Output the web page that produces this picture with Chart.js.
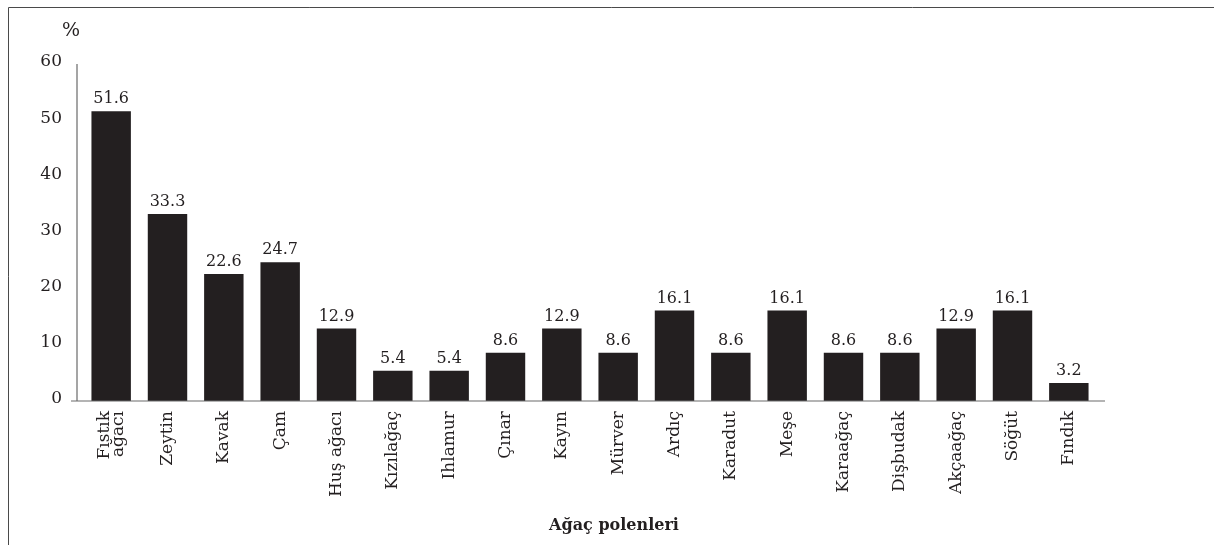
<!DOCTYPE html>
<html lang="tr">
<head>
<meta charset="utf-8">
<title>Ağaç polenleri</title>
<script src="https://cdn.jsdelivr.net/npm/chart.js@4/dist/chart.umd.min.js"></script>
<style>
  html, body { margin: 0; padding: 0; background: #fff; }
  #wrap { position: relative; width: 1214px; height: 545px; }
  canvas { display: block; }
</style>
</head>
<body>
<div id="wrap"><canvas id="c" width="1214" height="545"></canvas></div>
<script>
// Pollen types (x categories); multi-line entries are arrays of lines
const categories = [
  ['Fıstık', 'ağacı'], 'Zeytin', 'Kavak', 'Çam', 'Huş ağacı', 'Kızılağaç',
  'Ihlamur', 'Çınar', 'Kayın', 'Mürver', 'Ardıç', 'Karadut', 'Meşe',
  'Karaağaç', 'Dişbudak', 'Akçaağaç', 'Söğüt', 'Fındık'
];
// Share of each pollen type, %
const percentages = [
  51.6, 33.3, 22.6, 24.7, 12.9, 5.4, 5.4, 8.6, 12.9,
  8.6, 16.1, 8.6, 16.1, 8.6, 8.6, 12.9, 16.1, 3.2
];
const yTicks = [0, 10, 20, 30, 40, 50, 60];
const axisTitle = 'Ağaç polenleri';
const unitLabel = '%';

const INK = '#231f20';
const AXIS = '#6a6a6a';
const SERIF = '"DejaVu Serif", "Liberation Serif", serif';

const decor = {
  id: 'decor',
  afterDraw(chart) {
    const { ctx, chartArea: a, scales } = chart;
    const x = scales.x, y = scales.y;
    ctx.save();

    // outer frame (top and left edges)
    ctx.strokeStyle = '#4a4a4a';
    ctx.lineWidth = 1;
    ctx.beginPath();
    ctx.moveTo(8.5, 545);
    ctx.lineTo(8.5, 7.5);
    ctx.lineTo(1214, 7.5);
    ctx.stroke();

    // axis lines
    ctx.strokeStyle = AXIS;
    ctx.lineWidth = 1.2;
    const y0 = y.getPixelForValue(0);
    const yTop = y.getPixelForValue(60);
    ctx.beginPath();
    ctx.moveTo(a.left - 6, yTop);
    ctx.lineTo(a.left - 6, y0);
    ctx.moveTo(a.left - 12, y0);
    ctx.lineTo(a.right + 8, y0);
    ctx.stroke();

    // value labels above bars
    ctx.fillStyle = INK;
    ctx.font = '16px ' + SERIF;
    ctx.textAlign = 'center';
    ctx.textBaseline = 'alphabetic';
    const meta = chart.getDatasetMeta(0);
    meta.data.forEach((bar, i) => {
      ctx.fillText(percentages[i].toFixed(1), bar.x, bar.y - 8);
    });

    // category labels, rotated, each block centred on its tick
    ctx.font = '17px ' + SERIF;
    ctx.textAlign = 'right';
    ctx.textBaseline = 'middle';
    const lh = 14;
    categories.forEach((lab, i) => {
      const lines = Array.isArray(lab) ? lab : [lab];
      const cx = x.getPixelForTick(i);
      const start = cx - (lines.length - 1) * lh / 2;
      lines.forEach((t, j) => {
        ctx.save();
        ctx.translate(start + j * lh, y0 + 10);
        ctx.rotate(-Math.PI / 2);
        ctx.fillText(t, 0, 0);
        ctx.restore();
      });
    });

    // unit and axis title
    ctx.textAlign = 'center';
    ctx.textBaseline = 'middle';
    ctx.font = '19px ' + SERIF;
    ctx.fillText(unitLabel, 71, 31);
    ctx.font = 'bold 16px ' + SERIF;
    ctx.fillText(axisTitle, 614, 526);

    ctx.restore();
  }
};

new Chart(document.getElementById('c'), {
  type: 'bar',
  data: {
    labels: categories,
    datasets: [{
      data: percentages,
      backgroundColor: INK,
      borderWidth: 0,
      barPercentage: 0.7,
      categoryPercentage: 1
    }]
  },
  options: {
    responsive: false,
    animation: false,
    events: [],
    layout: { padding: { left: 0, right: 117, top: 64, bottom: 0 } },
    plugins: { legend: { display: false }, tooltip: { enabled: false } },
    scales: {
      x: {
        offset: true,
        grid: { display: false, drawTicks: false },
        border: { display: false },
        ticks: { display: false },
        afterFit(s) { s.height = 144; }
      },
      y: {
        min: 0,
        max: 60,
        grid: { display: false, drawTicks: false },
        border: { display: false },
        afterBuildTicks(s) { s.ticks = yTicks.map(v => ({ value: v })); },
        ticks: {
          color: INK,
          padding: 21,
          labelOffset: -2,
          font: { family: SERIF, size: 17 },
          callback: v => String(v)
        },
        afterFit(s) { s.width = 83; }
      }
    }
  },
  plugins: [decor]
});
</script>
</body>
</html>
